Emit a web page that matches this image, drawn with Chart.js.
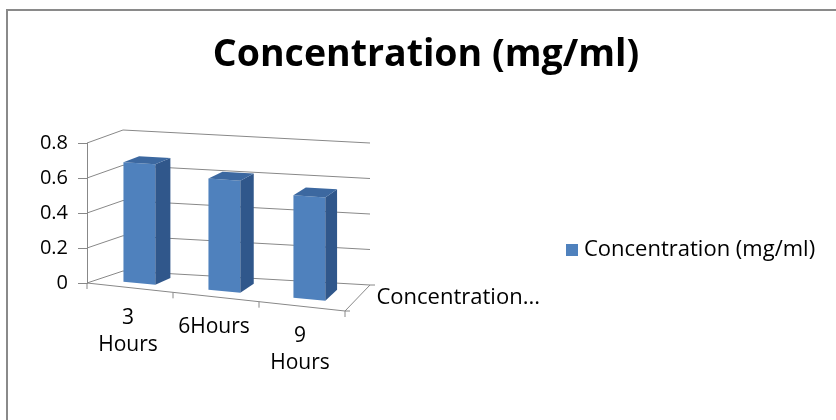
<!DOCTYPE html>
<html>
<head>
<meta charset="utf-8">
<title>Concentration (mg/ml)</title>
<script src="https://cdn.jsdelivr.net/npm/chart.js@4.4.1/dist/chart.umd.min.js"></script>
<style>
  html, body { margin: 0; padding: 0; background: #fff; }
  #wrap { position: relative; width: 836px; height: 420px; }
</style>
</head>
<body>
<div id="wrap"><canvas id="concChart"></canvas></div>
<script>
// Dados do gráfico
const categories = [["3", "Hours"], "6Hours", ["9", "Hours"]];
const seriesLabel = "Concentration (mg/ml)";
const concentration = [0.68, 0.62, 0.56];
const yMax = 0.8;
const yStep = 0.2;
const depthLabel = "Concentration...";
const chartTitle = "Concentration (mg/ml)";

const FONT = "'Open Sans', sans-serif";
const GRID = '#888888';
const FACE = '#4f81bd';
const SIDE = '#30578b';
const TOP = '#3c68a0';

Chart.defaults.font.family = FONT;

// Caixa em perspectiva: frente (z = 0) e fundo (z = 1), relativos à chartArea
function boxGeometry(ca) {
    return {
        front: { x0: ca.left, x1: ca.left + 258, base0: ca.bottom, base1: ca.bottom + 28, top0: ca.top, top1: ca.top + 16 },
        back: { x0: ca.left + 36, x1: ca.left + 283, base0: ca.bottom - 12, base1: ca.bottom + 2, top0: ca.top - 13, top1: ca.top }
    };
}

const lerp = (a, b, t) => a + (b - a) * t;

// u: posição na categoria (0..1), v: valor normalizado (0..1), z: profundidade (0..1)
function project(g, u, v, z) {
    const f = g.front, b = g.back;
    const fx = lerp(f.x0, f.x1, u);
    const bx = lerp(b.x0, b.x1, u);
    const fy = lerp(lerp(f.base0, f.base1, u), lerp(f.top0, f.top1, u), v);
    const by = lerp(lerp(b.base0, b.base1, u), lerp(b.top0, b.top1, u), v);
    return [lerp(fx, bx, z), lerp(fy, by, z)];
}

// Moldura cinza da área do gráfico
const frame = {
    id: 'frame',
    beforeDraw(chart) {
        const ctx = chart.ctx;
        ctx.save();
        ctx.strokeStyle = '#8a8a8a';
        ctx.lineWidth = 2;
        ctx.beginPath();
        ctx.moveTo(7, chart.height);
        ctx.lineTo(7, 10);
        ctx.lineTo(chart.width, 10);
        ctx.stroke();
        ctx.restore();
    }
};

// Legenda à direita (quadrado + nome da série)
const sideLegend = {
    id: 'sideLegend',
    afterDraw(chart) {
        const ctx = chart.ctx;
        const ds = chart.data.datasets[0];
        ctx.save();
        ctx.fillStyle = ds.backgroundColor;
        ctx.fillRect(566, 244, 12, 12);
        ctx.fillStyle = '#000';
        ctx.font = '22px ' + FONT;
        ctx.textAlign = 'left';
        ctx.textBaseline = 'middle';
        ctx.fillText(ds.label, 584, 250);
        ctx.restore();
    }
};

// Paredes, eixos e colunas 3D desenhados a partir das escalas do Chart.js
const columns3d = {
    id: 'columns3d',
    beforeDatasetsDraw(chart) {
        const ctx = chart.ctx;
        const ca = chart.chartArea;
        const g = boxGeometry(ca);
        const xs = chart.scales.x;
        const ys = chart.scales.y;
        const toU = px => (px - ca.left) / (ca.right - ca.left);
        const toV = py => (ca.bottom - py) / (ca.bottom - ca.top);
        const P = (u, v, z) => project(g, u, v, z);
        const line = (a, b) => { ctx.moveTo(a[0], a[1]); ctx.lineTo(b[0], b[1]); };
        const poly = (pts, color) => {
            ctx.beginPath();
            ctx.moveTo(pts[0][0], pts[0][1]);
            pts.slice(1).forEach(p => ctx.lineTo(p[0], p[1]));
            ctx.closePath();
            ctx.fillStyle = color;
            ctx.fill();
        };

        ctx.save();
        ctx.lineWidth = 1;
        ctx.strokeStyle = GRID;
        ctx.beginPath();

        // linhas de grade na parede lateral e na parede do fundo
        ys.ticks.forEach(t => {
            const v = toV(ys.getPixelForValue(t.value));
            line(P(0, v, 0), P(0, v, 1));
            line(P(0, v, 1), P(1, v, 1));
        });

        // eixo das categorias e eixo das séries
        line(P(0, 0, 0), P(1, 0, 0));
        line(P(1, 0, 0), P(1, 0, 1));

        // marcas entre categorias
        const n = chart.data.labels.length;
        for (let i = 0; i <= n; i++) {
            let px;
            if (i === 0) px = ca.left;
            else if (i === n) px = ca.right;
            else px = (xs.getPixelForValue(i - 1) + xs.getPixelForValue(i)) / 2;
            const p = P(toU(px), 0, 0);
            line(p, [p[0], p[1] + 6]);
        }
        const d0 = P(1, 0, 0), d1 = P(1, 0, 1);
        line(d0, [d0[0] + 5, d0[1]]);
        line(d1, [d1[0] + 5, d1[1]]);
        ctx.stroke();

        // colunas
        const meta = chart.getDatasetMeta(0);
        const z0 = 0.275, z1 = 0.725;
        meta.data.forEach(bar => {
            const { x, y, base, width } = bar.getProps(['x', 'y', 'base', 'width'], true);
            const uL = toU(x - width / 2), uR = toU(x + width / 2);
            const vT = toV(y), vB = toV(base);
            poly([P(uL, vB, z0), P(uR, vB, z0), P(uR, vT, z0), P(uL, vT, z0)], FACE);
            poly([P(uR, vB, z0), P(uR, vB, z1), P(uR, vT, z1), P(uR, vT, z0)], SIDE);
            poly([P(uL, vT, z0), P(uR, vT, z0), P(uR, vT, z1), P(uL, vT, z1)], TOP);
        });

        // rótulos das categorias abaixo do piso
        ctx.fillStyle = '#000';
        ctx.font = '21px ' + FONT;
        ctx.textAlign = 'center';
        ctx.textBaseline = 'middle';
        chart.data.labels.forEach((lab, i) => {
            const p = P(toU(xs.getPixelForValue(i)), 0, 0);
            const lines = Array.isArray(lab) ? lab : [lab];
            lines.forEach((s, k) => ctx.fillText(s, p[0] - 2, p[1] + 30 + k * 27));
        });

        // rótulo do eixo de profundidade
        ctx.textAlign = 'left';
        ctx.font = '22px ' + FONT;
        const dm = P(1, 0, 0.5);
        ctx.fillText(depthLabel, dm[0] + 19, dm[1]);
        ctx.restore();
        return false;
    }
};

new Chart(document.getElementById('concChart'), {
    type: 'bar',
    data: {
        labels: categories,
        datasets: [{
            label: seriesLabel,
            data: concentration,
            backgroundColor: FACE,
            borderWidth: 0,
            barPercentage: 0.375,
            categoryPercentage: 1
        }]
    },
    options: {
        responsive: true,
        maintainAspectRatio: false,
        animation: false,
        events: [],
        layout: { padding: { left: 32, right: 16, top: 0, bottom: 137 } },
        plugins: {
            title: {
                display: true,
                text: chartTitle,
                color: '#000',
                font: { size: 37.5, weight: 'bold' },
                padding: { top: 33, bottom: 65 }
            },
            legend: { display: false },
            tooltip: { enabled: false }
        },
        scales: {
            x: { display: false },
            y: {
                min: 0,
                max: yMax,
                afterFit(scale) { scale.width = 55; },
                border: { display: true, color: GRID, width: 1 },
                grid: { drawOnChartArea: false, drawTicks: true, tickLength: 9, color: GRID },
                ticks: {
                    stepSize: yStep,
                    padding: 10,
                    color: '#000',
                    font: { size: 20 },
                    callback: v => String(+v.toFixed(1))
                }
            }
        }
    },
    plugins: [frame, columns3d, sideLegend]
});
</script>
</body>
</html>
